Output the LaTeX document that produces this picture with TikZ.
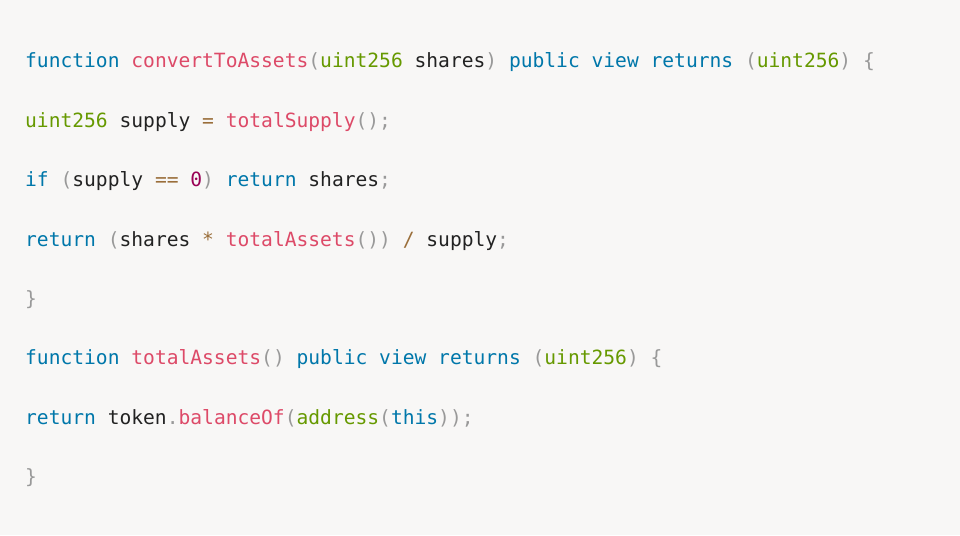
\documentclass[tikz,border=0pt]{standalone}
\usepackage{fontspec}
\setmonofont{DejaVu Sans Mono}
\definecolor{bg}{HTML}{F8F7F6}
\definecolor{ckw}{HTML}{0077AA}
\definecolor{cfn}{HTML}{DD4A68}
\definecolor{cpu}{HTML}{999999}
\definecolor{cbi}{HTML}{669900}
\definecolor{cnm}{HTML}{990055}
\definecolor{cop}{HTML}{9A6E3A}
\definecolor{ctx}{HTML}{222222}
\newcommand\kw[1]{\textcolor{ckw}{#1}}
\newcommand\fn[1]{\textcolor{cfn}{#1}}
\newcommand\pu[1]{\textcolor{cpu}{#1}}
\newcommand\bi[1]{\textcolor{cbi}{#1}}
\newcommand\nm[1]{\textcolor{cnm}{#1}}
\newcommand\op[1]{\textcolor{cop}{#1}}
\tikzset{code/.style={anchor=base west,inner sep=0pt,font=\ttfamily\fontsize{19.6pt}{22pt}\selectfont,text=ctx}}
\begin{document}
\begin{tikzpicture}[x=1pt,y=-1pt]
\fill[bg] (0,0) rectangle (960,535);
\useasboundingbox (0,0) rectangle (960,535);
\node[code] (l1) at (25,67) {\kw{function} \fn{convertToAssets}\pu{(}\bi{uint256} shares\pu{)} \kw{public} \kw{view} \kw{returns} \pu{(}\bi{uint256}\pu{)} \pu{\{}};
\node[code] (l2) at (25,127) {\bi{uint256} supply \op{=} \fn{totalSupply}\pu{();}};
\node[code] (l3) at (25,186) {\kw{if} \pu{(}supply \op{==} \nm{0}\pu{)} \kw{return} shares\pu{;}};
\node[code] (l4) at (25,246) {\kw{return} \pu{(}shares \op{*} \fn{totalAssets}\pu{())} \op{/} supply\pu{;}};
\node[code] (l5) at (25,305) {\pu{\}}};
\node[code] (l6) at (25,364) {\kw{function} \fn{totalAssets}\pu{()} \kw{public} \kw{view} \kw{returns} \pu{(}\bi{uint256}\pu{)} \pu{\{}};
\node[code] (l7) at (25,424) {\kw{return} token\pu{.}\fn{balanceOf}\pu{(}\bi{address}\pu{(}\kw{this}\pu{));}};
\node[code] (l8) at (25,483) {\pu{\}}};
\end{tikzpicture}
\end{document}
